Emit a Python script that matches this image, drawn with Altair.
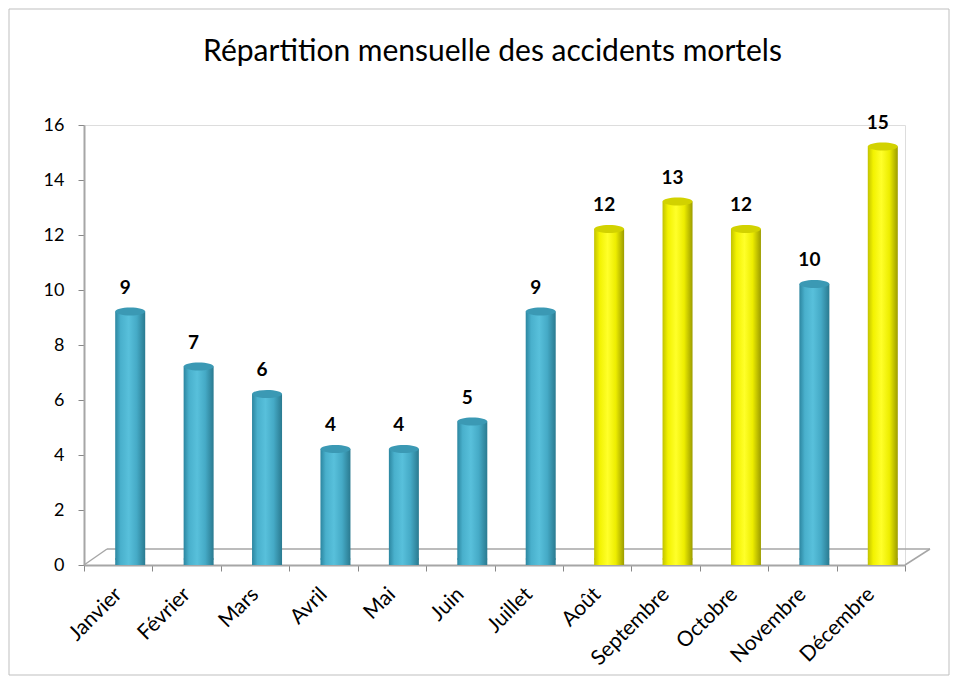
import altair as alt
import pandas as pd

months = ["Janvier", "Février", "Mars", "Avril", "Mai", "Juin", "Juillet",
          "Août", "Septembre", "Octobre", "Novembre", "Décembre"]
values = [9, 7, 6, 4, 4, 5, 9, 12, 13, 12, 10, 15]
group = ["bleu", "bleu", "bleu", "bleu", "bleu", "bleu", "bleu",
         "jaune", "jaune", "jaune", "bleu", "jaune"]
title_text = "Répartition mensuelle des accidents mortels"

df = pd.DataFrame({"mois": months, "n": values, "groupe": group, "zero": [0] * 12})

W, H = 821, 440
FONT = "Lato"

blue_grad = alt.LinearGradient(gradient="linear", x1=0, y1=0, x2=1, y2=0, stops=[
    alt.GradientStop(color="#2C86A0", offset=0),
    alt.GradientStop(color="#49B0CC", offset=0.18),
    alt.GradientStop(color="#58C0DB", offset=0.45),
    alt.GradientStop(color="#45AAC6", offset=0.72),
    alt.GradientStop(color="#2A7A90", offset=1)])
yellow_grad = alt.LinearGradient(gradient="linear", x1=0, y1=0, x2=1, y2=0, stops=[
    alt.GradientStop(color="#C2C200", offset=0),
    alt.GradientStop(color="#F2F200", offset=0.18),
    alt.GradientStop(color="#FFFF2A", offset=0.45),
    alt.GradientStop(color="#EDED00", offset=0.72),
    alt.GradientStop(color="#9C9C00", offset=1)])

ELL = "M-1,0A1,0.27,0,1,0,1,0A1,0.27,0,1,0,-1,0Z"

xenc = alt.X("mois:N", sort=months, title=None,
             scale=alt.Scale(paddingInner=0, paddingOuter=0),
             axis=alt.Axis(labelAngle=-45, labelFontSize=21, labelFont=FONT,
                           labelColor="#000000", labelPadding=20,
                           labelAlign="right", labelBaseline="middle",
                           tickBand="extent", tickColor="#888888", tickSize=6,
                           domainColor="#A6A6A6", domainWidth=2, grid=False))
yscale = alt.Scale(domain=[0, 16], nice=False)
yenc = alt.Y("n:Q", scale=yscale, title=None,
             axis=alt.Axis(values=list(range(0, 17, 2)), labelFontSize=18, labelFont=FONT,
                           labelColor="#000000", labelPadding=14, tickColor="#888888",
                           tickSize=6, domainColor="#A6A6A6", domainWidth=2, grid=False))

base = alt.Chart(df)

layers = []
for g, grad, cap in [("bleu", blue_grad, "#3B99B4"), ("jaune", yellow_grad, "#D2D200")]:
    sub = base.transform_filter(alt.datum.groupe == g)
    layers.append(sub.mark_point(shape=ELL, size=900, filled=True, fill=grad, opacity=1,
                                 strokeOpacity=0, xOffset=12, yOffset=-6)
                  .encode(x=xenc, y=alt.Y("zero:Q", scale=yscale)))
    layers.append(sub.mark_bar(size=30, fill=grad, xOffset=12, yOffset=-6)
                  .encode(x=xenc, y=yenc, y2="zero:Q"))
    layers.append(sub.mark_point(shape=ELL, size=900, filled=True, fill=cap, opacity=1,
                                 strokeOpacity=0, xOffset=12, yOffset=-6)
                  .encode(x=xenc, y=alt.Y("n:Q", scale=yscale)))

labels = base.mark_text(font=FONT, fontSize=19, fontWeight="bold", color="#000000",
                        baseline="bottom", dy=-20, xOffset=7).encode(
    x=xenc, y=alt.Y("n:Q", scale=yscale), text="n:Q")

one = alt.Chart(df.head(1))
floor_back = one.mark_rule(color="#A6A6A6", strokeWidth=1.5).encode(
    x=alt.value(23), x2=alt.value(W + 25), y=alt.value(H - 16))
floor_l = one.mark_rule(color="#A6A6A6", strokeWidth=1.5).encode(
    x=alt.value(0), x2=alt.value(23), y=alt.value(H), y2=alt.value(H - 16))
floor_r = one.mark_rule(color="#A6A6A6", strokeWidth=1.5).encode(
    x=alt.value(W), x2=alt.value(W + 25), y=alt.value(H), y2=alt.value(H - 16))
frame = one.mark_rect(fill=None, stroke="#BFBFBF", strokeWidth=1, clip=False).encode(
    x=alt.value(-75), x2=alt.value(W + 44), y=alt.value(-116), y2=alt.value(H + 110))
title = one.mark_text(text=title_text, font=FONT, fontSize=30, color="#000000",
                      align="center", baseline="alphabetic").encode(
    x=alt.value(W / 2 - 2), y=alt.value(-64))

chart = alt.layer(frame, title, floor_back, floor_l, floor_r, *layers, labels).properties(
    width=W, height=H,
    autosize=alt.AutoSizeParams(type="none"),
    padding={"left": 76, "top": 117, "right": 45, "bottom": 112},
).configure_view(stroke=None).configure(background="white")

chart.save("out.html", embed_options={"renderer": "svg", "actions": False})
